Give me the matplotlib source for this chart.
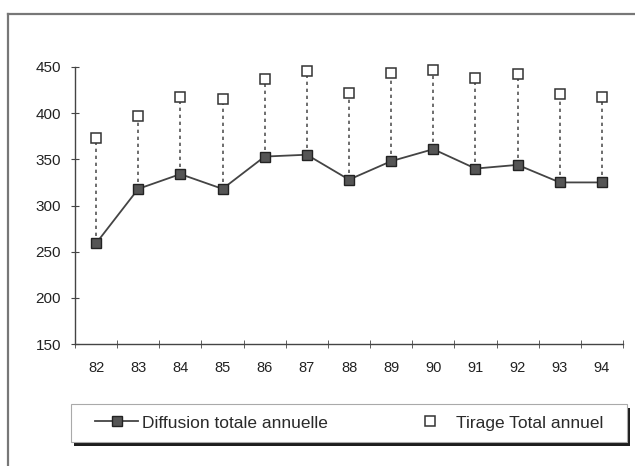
import matplotlib
matplotlib.use('Agg')
from matplotlib import pyplot as plt
from matplotlib.lines import Line2D
from matplotlib.patches import Rectangle

years = ['82', '83', '84', '85', '86', '87', '88', '89', '90', '91', '92', '93', '94']
diffusion = [259, 318, 334, 318, 353, 355, 328, 348, 361, 340, 344, 325, 325]
tirage = [373, 397, 417, 415, 437, 446, 422, 444, 447, 438, 442, 421, 418]
y_ticks = [150, 200, 250, 300, 350, 400, 450]

plt.rcParams['font.family'] = ['Liberation Sans', 'DejaVu Sans']

W, H = 635, 466
fig = plt.figure(figsize=(W / 100, H / 100), dpi=100)

# outer frame (top and left edges visible on the scan)
fig.add_artist(Line2D([8 / W, 8 / W], [0, 1 - 14 / H], transform=fig.transFigure,
                      color='#777777', lw=1.6))
fig.add_artist(Line2D([8 / W, 1], [1 - 14 / H, 1 - 14 / H], transform=fig.transFigure,
                      color='#777777', lw=1.6))

ax = fig.add_axes([75 / W, 1 - 344 / H, (623 - 75) / W, (344 - 67) / H])
x = list(range(len(years)))

ax.vlines(x, diffusion, tirage, colors='#555555', linestyles=(0, (2, 2.2)), lw=1.2, zorder=1)
ax.plot(x, diffusion, color='#444444', lw=1.3, marker='s', markersize=6.5,
        markerfacecolor='#555555', markeredgecolor='#222222', zorder=3, clip_on=False,
        label='Diffusion totale annuelle')
ax.plot(x, tirage, linestyle='none', marker='s', markersize=6.5,
        markerfacecolor='white', markeredgecolor='#333333', markeredgewidth=1.1, zorder=3,
        clip_on=False, label='Tirage Total annuel')

ax.set_xlim(-0.5, len(years) - 0.5)
ax.set_ylim(150, 450)
ax.set_yticks(y_ticks)
ax.set_xticks(x)
ax.set_xticklabels(years)
ax.set_xticks([i - 0.5 for i in range(len(years) + 1)], minor=True)

for s in ['top', 'right']:
    ax.spines[s].set_visible(False)
for s in ['left', 'bottom']:
    ax.spines[s].set_color('#444444')
    ax.spines[s].set_linewidth(1.0)

ax.tick_params(axis='x', which='major', length=0, pad=12, labelsize=10.5, labelcolor='#222222')
ax.tick_params(axis='x', which='minor', length=6, direction='inout', color='#444444')
ax.tick_params(axis='y', length=6, direction='inout', color='#444444', pad=7,
               labelsize=11, labelcolor='#222222')

# legend box with its dark drop shadow (drawn below the axes so the legend sits on top)
fig.add_artist(Rectangle((74 / W, 1 - 446 / H), 556 / W, 38 / H, transform=fig.transFigure,
                         facecolor='#1e1e1e', edgecolor='none', zorder=-2))
fig.add_artist(Rectangle((71 / W, 1 - 442 / H), 556 / W, 38 / H, transform=fig.transFigure,
                         facecolor='white', edgecolor='#aaaaaa', lw=0.8, zorder=-1))

leg = ax.legend(loc='center', ncol=2, mode='expand',
                bbox_to_anchor=(95 / W, 1 - 442 / H, 508 / W, 38 / H),
                bbox_transform=fig.transFigure, frameon=False,
                fontsize=12.5, handlelength=2.5, borderpad=0, borderaxespad=0,
                handletextpad=0.2)
for t in leg.get_texts():
    t.set_color('#2a2a2a')

fig.savefig('out.png', dpi=100)
